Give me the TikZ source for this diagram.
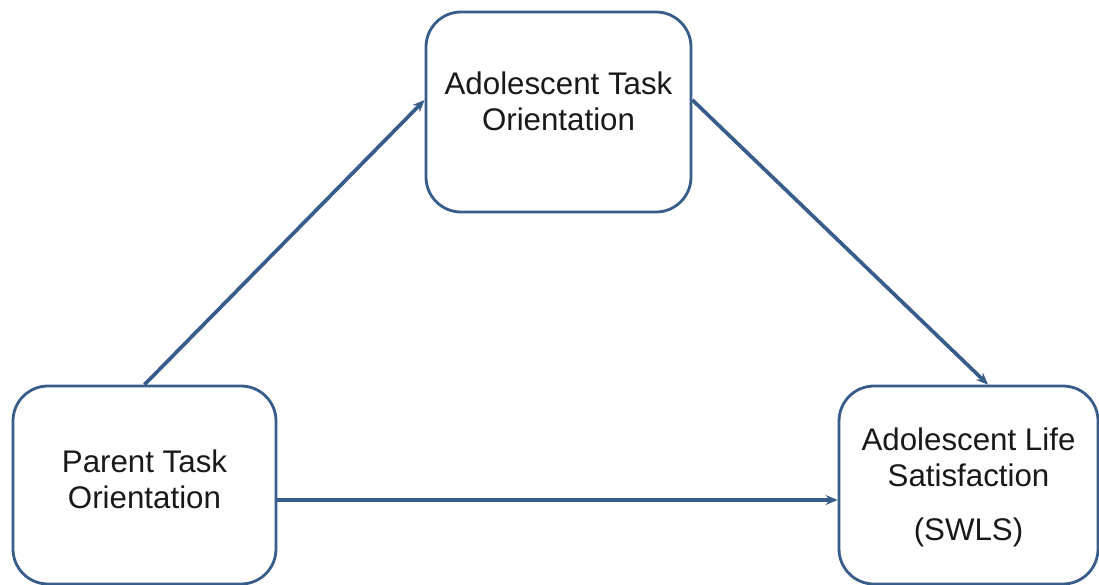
\documentclass[tikz,border=0pt]{standalone}
\usepackage{fontspec}
\setmainfont{Liberation Sans}
\usetikzlibrary{arrows.meta}
\definecolor{boxblue}{RGB}{56,93,138}
\tikzset{
  varbox/.style={draw=boxblue, line width=1.6pt, rounded corners=0.7cm, minimum width=5.3cm, minimum height=4cm, inner sep=0pt},
  vartext/.style={align=center, font=\fontsize{17.8}{20.5}\selectfont, text=black!90},
  link/.style={draw=boxblue, line width=2.1pt, -{Stealth[length=0.24cm, width=0.2cm]}}
}
\begin{document}
\begin{tikzpicture}
      \useasboundingbox (0,0) rectangle (21.98,11.68);
      \node[varbox] (atask) at (11.17, 9.44) {};
      \node[varbox, minimum width=5.26cm, minimum height=3.96cm] (ptask) at (2.89, 1.98) {};
      \node[varbox, minimum width=5.18cm, minimum height=3.96cm] (lsat) at (19.37, 1.98) {};
      \node[vartext] (atasktext) at ([yshift=0.21cm]atask.center) {Adolescent Task\\Orientation};
      \node[vartext] (ptasktext) at ([yshift=0.12cm]ptask.center) {Parent Task\\Orientation};
      \node[vartext] (lsattext) at ([yshift=-0.05cm]lsat.center) {Adolescent Life\\Satisfaction\\[10pt](SWLS)};
      \draw[link] (ptask.north) -- ([yshift=0.24cm]atask.west);
      \draw[link] ([yshift=0.24cm]atask.east) -- ([xshift=0.39cm]lsat.north);
      \draw[link] ([yshift=-0.3cm]ptask.east) -- ([yshift=-0.3cm]lsat.west);
    \end{tikzpicture}
\end{document}
